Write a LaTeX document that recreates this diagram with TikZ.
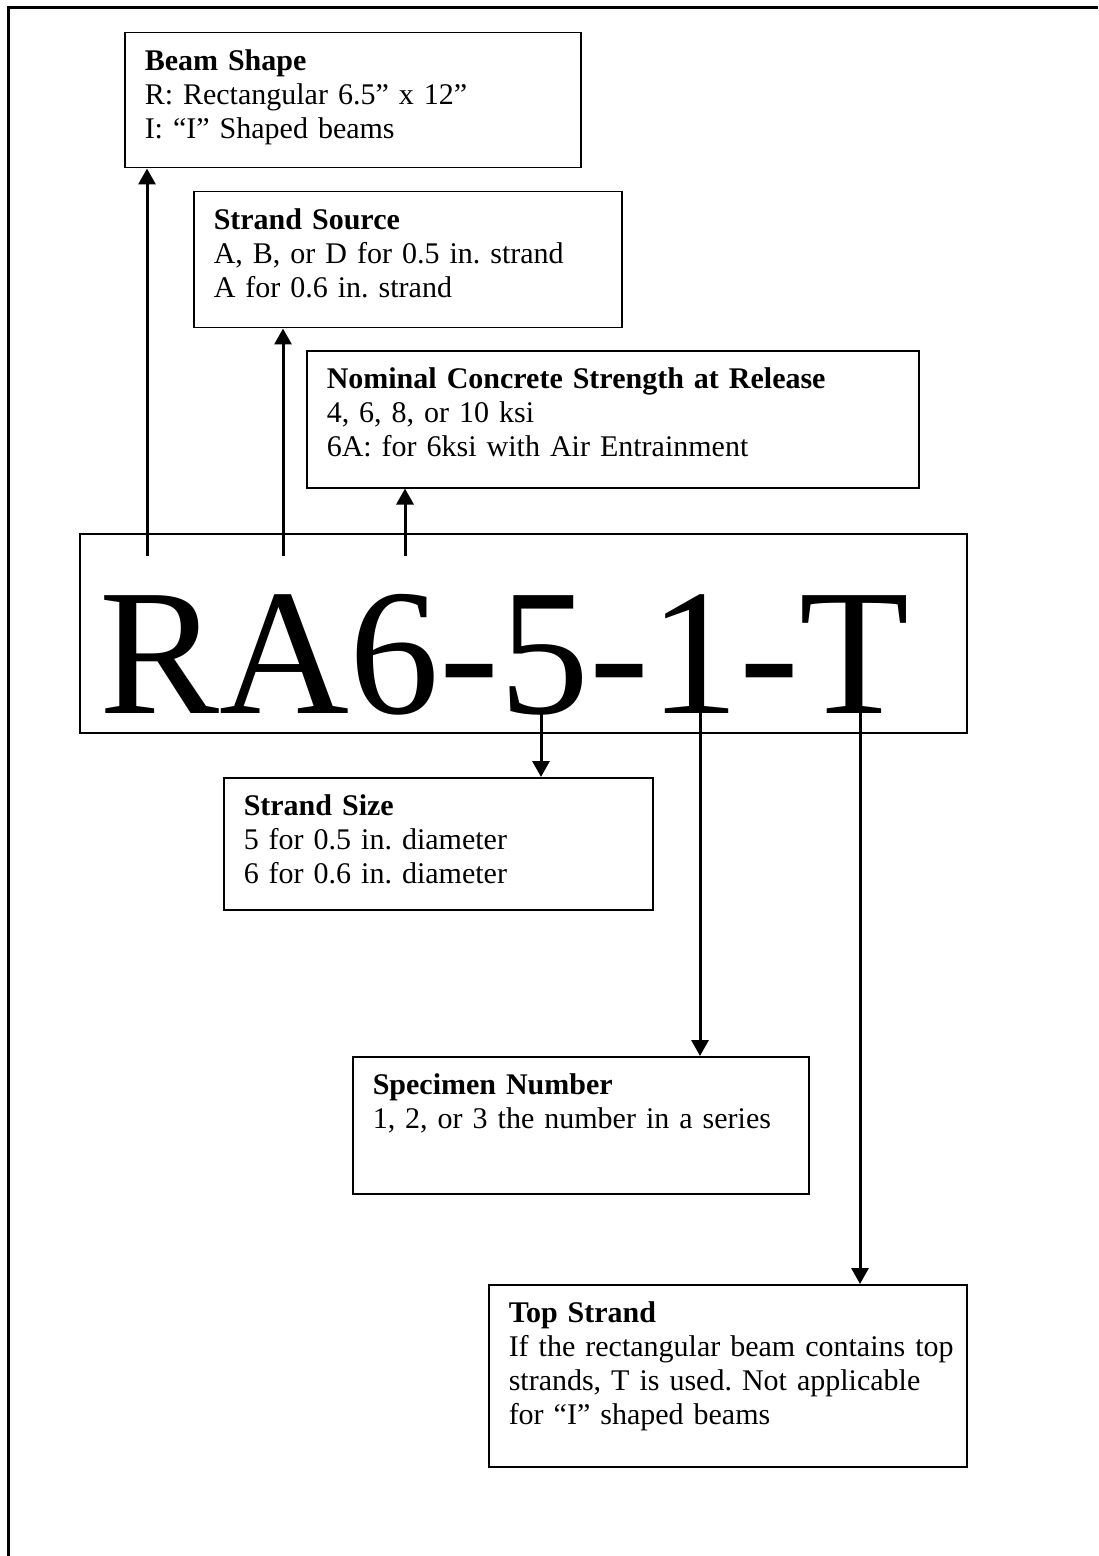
\documentclass[tikz,border=0pt]{standalone}
\usepackage{fontspec}
\setmainfont{Liberation Serif}
\frenchspacing
\usetikzlibrary{arrows.meta}
\tikzset{
  infobox/.style={draw, line width=0.75pt, anchor=north west, align=left,
    inner xsep=10pt, inner ysep=0pt, text height=19pt,
    font=\fontsize{15}{17}\selectfont},
  link/.style={line width=1.5pt, -{Triangle[width=8.5pt,length=8pt]}}
}
\begin{document}
\begin{tikzpicture}[x=0.5pt, y=-0.5pt]
	\useasboundingbox (0,0) rectangle (1098,1556);
	\draw[line width=1.5pt] (8.5,1556) -- (8.5,7.5) -- (1098,7.5);

	\node[infobox, text width=208pt, text depth=48.5pt] (shape) at (124,32)
		{\textbf{Beam Shape}\\R: Rectangular 6.5” x 12”\\I: “I” Shaped beams};
	\node[infobox, text width=194pt, text depth=49pt] (source) at (193,191)
		{\textbf{Strand Source}\\A, B, or D for 0.5 in. strand\\A for 0.6 in. strand};
	\node[infobox, text width=286pt, text depth=49.5pt] (release) at (306,350)
		{\textbf{Nominal Concrete Strength at Release}\\4, 6, 8, or 10 ksi\\6A: for 6ksi with Air Entrainment};
	\node[infobox, text width=423.5pt, text height=90pt, text depth=9.5pt,
		font=\fontsize{90}{100}\selectfont] (code) at (79,533) {RA6-5-1-T};
	\node[infobox, text width=194.5pt, text depth=47pt] (size) at (223,777)
		{\textbf{Strand Size}\\5 for 0.5 in. diameter\\6 for 0.6 in. diameter};
	\node[infobox, text width=208pt, text depth=49.5pt] (specimen) at (352,1056)
		{\textbf{Specimen Number}\\1, 2, or 3 the number in a series};
	\node[infobox, text width=219pt, text depth=72pt] (top) at (488,1284)
		{\textbf{Top Strand}\\\mbox{If the rectangular beam contains top}\\strands, T is used. Not applicable\\for “I” shaped beams};

	\coordinate (rfoot) at (147,556);
	\coordinate (afoot) at (283,556);
	\coordinate (sixfoot) at (405,556);
	\coordinate (fivefoot) at (541,713);
	\coordinate (onefoot) at (700,713);
	\coordinate (tfoot) at (860,713);

	\draw[link] (rfoot) -- (rfoot |- shape.south);
	\draw[link] (afoot) -- (afoot |- source.south);
	\draw[link] (sixfoot) -- (sixfoot |- release.south);
	\draw[link] (fivefoot) -- (fivefoot |- size.north);
	\draw[link] (onefoot) -- (onefoot |- specimen.north);
	\draw[link] (tfoot) -- (tfoot |- top.north);
\end{tikzpicture}
\end{document}
